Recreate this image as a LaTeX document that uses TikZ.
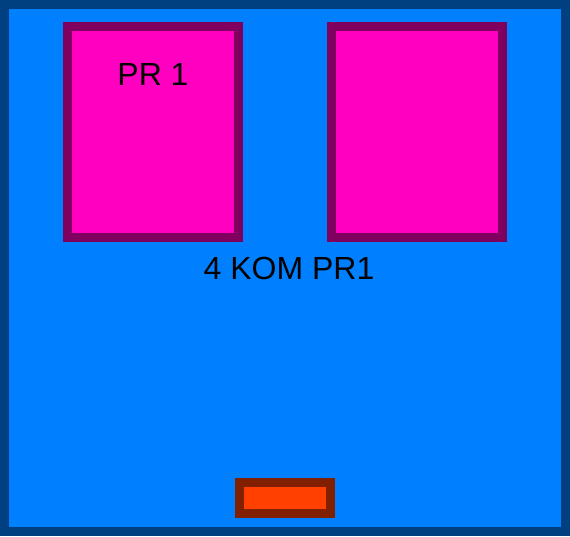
\documentclass[tikz,border=0pt]{standalone}
\usepackage{fontspec}
\setmainfont{Liberation Sans}
\usepackage{tikz}
\usetikzlibrary{positioning}

\definecolor{frameblue}{HTML}{004080}
\definecolor{fieldblue}{HTML}{0080FF}
\definecolor{roommag}{HTML}{FF00C0}
\definecolor{roomedge}{HTML}{800060}
\definecolor{doororange}{HTML}{FF4000}
\definecolor{dooredge}{HTML}{802000}

\begin{document}
\begin{tikzpicture}[
    x=1pt, y=-1pt,
    room/.style={rectangle, draw=roomedge, fill=roommag, line width=9pt,
      minimum width=171pt, minimum height=211pt, inner sep=0pt},
    door/.style={rectangle, draw=dooredge, fill=doororange, line width=9pt,
      minimum width=91pt, minimum height=31pt, inner sep=0pt},
    lbl/.style={font=\fontsize{32}{38}\selectfont, inner sep=0pt},
  ]
    \useasboundingbox (0,0) rectangle (570,536);
    \draw[draw=frameblue, fill=fieldblue, line width=9pt] (4.5,4.5) rectangle (565.5,531.5);
    \node[room] (pra) at (153,132) {};
    \node[room] (prb) at (417,132) {};
    \node[lbl]  (pralbl) at (153,74.5) {PR 1};
    \node[lbl]  (kom) at (289,268.5) {4 KOM PR1};
    \node[door] (entry) at (285,498) {};
  \end{tikzpicture}
\end{document}
